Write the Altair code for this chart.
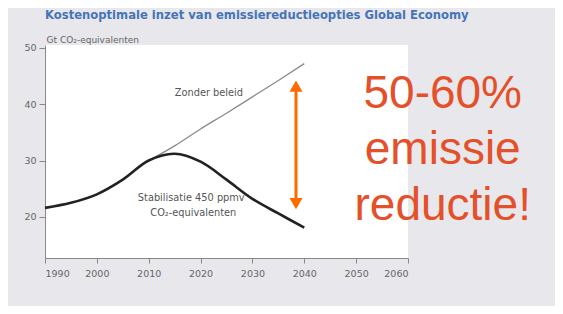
import altair as alt
import pandas as pd

years = [1990, 1995, 2000, 2005, 2010, 2015, 2020, 2025, 2030, 2035, 2040]
stabilisatie = [21.6, 22.5, 24.0, 26.6, 30.0, 31.2, 29.8, 26.6, 23.2, 20.6, 18.1]
zonder_years = [2010, 2015, 2020, 2025, 2030, 2035, 2040]
zonder_beleid = [30.0, 32.6, 35.6, 38.4, 41.3, 44.2, 47.2]

x_ticks = [1990, 2000, 2010, 2020, 2030, 2040, 2050, 2060]
y_ticks = [20, 30, 40, 50]

title_text = "Kostenoptimale inzet van emissiereductieopties Global Economy"
unit_text = "Gt CO₂-equivalenten"

df_stab = pd.DataFrame({"jaar": years, "waarde": stabilisatie})
df_zonder = pd.DataFrame({"jaar": zonder_years, "waarde": zonder_beleid})

xs = alt.Scale(domain=[1990, 2060], nice=False, zero=False)
ys = alt.Scale(domain=[12.7, 50.5], nice=False, zero=False)

X = alt.X("jaar:Q", scale=xs, axis=alt.Axis(values=x_ticks, format="d", title=None, grid=False,
          labelFontSize=9.5, labelColor="#666", tickSize=5, tickColor="#888", domainColor="#888",
          labelPadding=5))
Y = alt.Y("waarde:Q", scale=ys, axis=alt.Axis(values=y_ticks, title=None, grid=False,
          labelFontSize=9.5, labelColor="#666", tickSize=6, tickColor="#888", domainColor="#888",
          labelPadding=3))

line_zonder = alt.Chart(df_zonder).mark_line(color="#8a8a8a", strokeWidth=1.3, interpolate="monotone").encode(x=X, y=Y)
line_stab = alt.Chart(df_stab).mark_line(color="#222222", strokeWidth=2.6, interpolate="catmull-rom").encode(x=X, y=Y)

labels = pd.DataFrame({
    "jaar": [2021.6, 2018.2, 2018.6],
    "waarde": [42.0, 23.4, 20.7],
    "tekst": ["Zonder beleid", "Stabilisatie 450 ppmv", "CO₂-equivalenten"],
})
lbl = alt.Chart(labels).mark_text(fontSize=9.8, color="#555", font="DejaVu Sans").encode(
    x=alt.X("jaar:Q", scale=xs), y=alt.Y("waarde:Q", scale=ys), text="tekst:N")

heads = pd.DataFrame({"jaar": [2038.4, 2038.4], "waarde": [43.2, 22.35],
                      "vorm": ["triangle-up", "triangle-down"]})
arrow_line = alt.Chart(pd.DataFrame({"jaar": [2038.4], "y1": [43.0], "y2": [22.5]})).mark_rule(
    color="#ff6a00", strokeWidth=3).encode(x=alt.X("jaar:Q", scale=xs), y=alt.Y("y1:Q", scale=ys), y2="y2:Q")
arrow_heads = alt.Chart(heads).mark_point(filled=True, color="#ff6a00", size=170, opacity=1).encode(
    x=alt.X("jaar:Q", scale=xs), y=alt.Y("waarde:Q", scale=ys),
    shape=alt.Shape("vorm:N", scale=alt.Scale(domain=["triangle-up", "triangle-down"],
                                              range=["triangle-up", "triangle-down"]), legend=None))

big = pd.DataFrame({"jaar": [2066.7, 2066.7, 2066.7], "waarde": [41.85, 31.95, 21.9],
                    "tekst": ["50-60%", "emissie", "reductie!"]})
big_text = alt.Chart(big).mark_text(fontSize=46, color="#e4502a", font="Liberation Sans", baseline="middle").encode(
    x=alt.X("jaar:Q", scale=xs), y=alt.Y("waarde:Q", scale=ys), text="tekst:N")

heads_txt = pd.DataFrame({"jaar": [1990, 1990.3], "waarde": [55.6, 51.4], "tekst": [title_text, unit_text]})
title_l = alt.Chart(heads_txt.iloc[[0]]).mark_text(fontSize=11.6, fontWeight="bold", color="#4674b8",
                                                 align="left", font="DejaVu Sans").encode(
    x=alt.X("jaar:Q", scale=xs), y=alt.Y("waarde:Q", scale=ys), text="tekst:N")
unit_l = alt.Chart(heads_txt.iloc[[1]]).mark_text(fontSize=9, color="#666", align="left",
                                                font="DejaVu Sans").encode(
    x=alt.X("jaar:Q", scale=xs), y=alt.Y("waarde:Q", scale=ys), text="tekst:N")

chart = alt.layer(line_zonder, line_stab, lbl, arrow_line, arrow_heads, big_text, title_l, unit_l).properties(
    width=363, height=213,
    autosize=alt.AutoSizeParams(type="none"),
    padding={"left": 37, "top": 37, "right": 147, "bottom": 48},
    background="#e8e8ec",
).configure_view(fill="white", stroke=None).configure_axis(labelFont="DejaVu Sans")

chart.save("out.html", embed_options={"renderer": "svg", "actions": False})
